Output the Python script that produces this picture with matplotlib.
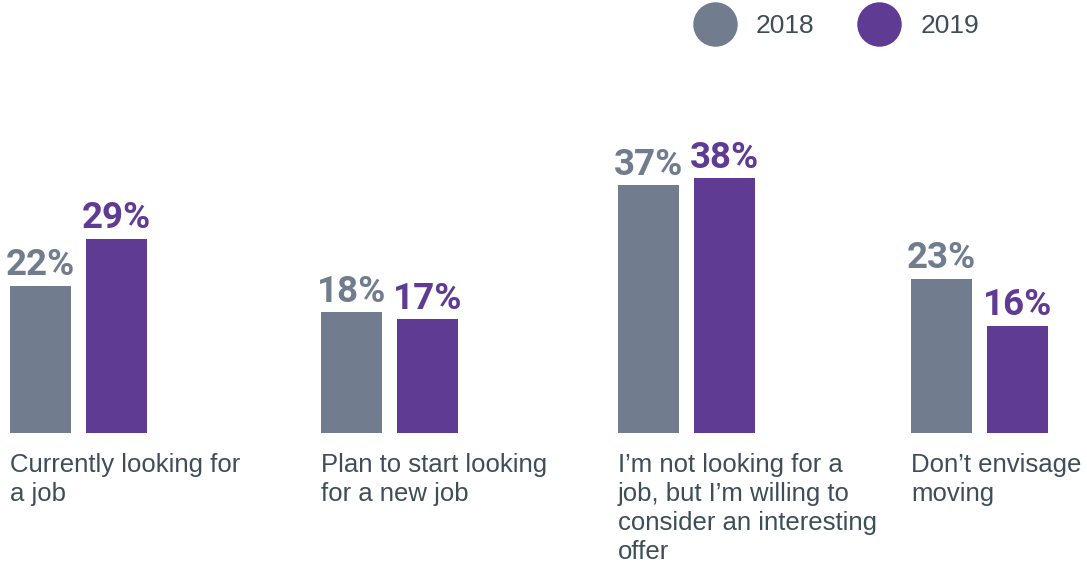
import matplotlib
matplotlib.use("Agg")
from matplotlib import pyplot as plt
from matplotlib import font_manager
from matplotlib.lines import Line2D

categories = [
    "Currently looking for\na job",
    "Plan to start looking\nfor a new job",
    "I\u2019m not looking for a\njob, but I\u2019m willing to\nconsider an interesting\noffer",
    "Don\u2019t envisage\nmoving",
]
years = ["2018", "2019"]
values_2018 = [22, 18, 37, 23]
values_2019 = [29, 17, 38, 16]

GRAY = "#717d8f"
PURPLE = "#5f3b93"
TEXT = "#3d4d59"

# layout in pixels (x axis runs in pixels, y axis in percent)
W, H = 1087, 566
PX_PER_PCT = 6.7
BASELINE = 433
group_left = [10, 321, 618, 911]
bar_w = 61
pair_step = 76

label_font = ["Liberation Sans", "DejaVu Sans"]


def condensed_bold(family):
    path = font_manager.findfont(font_manager.FontProperties(
        family=family, weight="bold", stretch="condensed"), fallback_to_default=False)
    return "Condensed" in path or "Narrow" in path


# percentages want a narrow bold face; Roboto bold is the fallback
value_props = dict(family=["Roboto", "DejaVu Sans"], fontsize=26.5, fontweight="bold")
for fam, size in [("Open Sans", 27), ("Roboto", 27), ("Liberation Sans Narrow", 27)]:
    try:
        ok = condensed_bold(fam)
    except Exception:
        ok = False
    if ok:
        value_props = dict(family=[fam, "DejaVu Sans"], fontsize=size,
                           fontweight="bold", fontstretch="condensed")
        break

fig = plt.figure(figsize=(W / 100, H / 100), dpi=100)
ax = fig.add_axes([0, 0, 1, 1])
ax.set_xlim(0, W)
ax.set_ylim(-(H - BASELINE) / PX_PER_PCT, BASELINE / PX_PER_PCT)
ax.axis("off")

for i, cat in enumerate(categories):
    x0 = group_left[i]
    for j, (vals, color) in enumerate([(values_2018, GRAY), (values_2019, PURPLE)]):
        x = x0 + j * pair_step
        ax.bar(x, vals[i], width=bar_w, align="edge", color=color, linewidth=0)
        ax.annotate(f"{vals[i]}%", (x + bar_w / 2, vals[i]), xytext=(0, 7.5),
                    textcoords="offset points", ha="center", va="baseline",
                    color=color, **value_props)
    ax.text(x0, -3.0, cat, ha="left", va="top", fontsize=18.5, color=TEXT,
            family=label_font, linespacing=1.27)

handles = [Line2D([], [], linestyle="none", marker="o", markersize=32,
                  markerfacecolor=c, markeredgewidth=0)
           for c in (GRAY, PURPLE)]
leg = ax.legend(handles, years, loc="center right", ncol=2, frameon=False,
                bbox_to_anchor=(979 / W, 1 - 26 / H), bbox_transform=fig.transFigure,
                borderaxespad=0, borderpad=0, handlelength=1.6, handletextpad=0.75,
                columnspacing=1.65, prop={"family": label_font, "size": 19})
for t in leg.get_texts():
    t.set_color(TEXT)

fig.savefig("out.png", dpi=100)
